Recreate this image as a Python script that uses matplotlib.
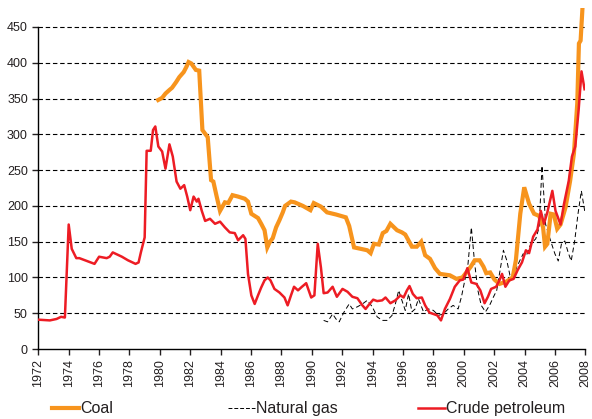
import matplotlib.pyplot as plt
from matplotlib.lines import Line2D

# ================= DATA =================
oil_years = [1972.0, 1972.76, 1973.2, 1973.5, 1973.75, 1974.0, 1974.2, 1974.5, 1974.7, 1975.7,
             1976.0, 1976.5, 1976.7, 1976.9, 1977.5, 1977.9, 1978.4, 1978.6, 1978.75, 1979.0,
             1979.13, 1979.4, 1979.55, 1979.7, 1979.9, 1980.15, 1980.37, 1980.63, 1980.85, 1981.1,
             1981.35, 1981.6, 1981.8, 1982.0, 1982.22, 1982.43, 1982.54, 1982.76, 1982.98, 1983.3,
             1983.63, 1983.96, 1984.28, 1984.6, 1984.93, 1985.15, 1985.48, 1985.63, 1985.8, 1986.02,
             1986.24, 1986.46, 1986.67, 1986.89, 1987.1, 1987.28, 1987.54, 1987.87, 1988.2, 1988.41,
             1988.63, 1988.83, 1989.09, 1989.35, 1989.63, 1989.96, 1990.17, 1990.39, 1990.6, 1990.78,
             1991.04, 1991.37, 1991.65, 1992.02, 1992.35, 1992.67, 1993.0, 1993.33, 1993.54, 1993.76,
             1994.04, 1994.3, 1994.63, 1994.85, 1995.17, 1995.5, 1995.83, 1996.04, 1996.26, 1996.43,
             1996.65, 1996.9, 1997.24, 1997.46, 1997.74, 1998.0, 1998.26, 1998.5, 1998.76, 1999.09,
             1999.41, 1999.74, 1999.96, 2000.24, 2000.5, 2000.83, 2001.09, 2001.37, 2001.59, 2001.8,
             2002.13, 2002.35, 2002.52, 2002.74, 2003.0, 2003.28, 2003.54, 2003.83, 2004.09, 2004.3,
             2004.57, 2004.85, 2005.07, 2005.28, 2005.5, 2005.83, 2006.04, 2006.37, 2006.59, 2006.91,
             2007.12, 2007.34, 2007.56, 2007.75, 2007.95]
oil_values = [41, 40, 42, 45, 44, 174, 140, 127, 127, 119,
              129, 127, 129, 135, 129, 124, 119, 121, 135, 156,
              277, 277, 306, 311, 283, 276, 252, 286, 269, 234,
              224, 229, 213, 194, 213, 206, 210, 193, 179, 182,
              175, 178, 170, 163, 162, 152, 159, 154, 105, 75,
              63, 75, 86, 96, 100, 96, 84, 79, 72, 61,
              75, 87, 82, 87, 92, 72, 75, 147, 114, 78,
              79, 87, 73, 84, 80, 73, 71, 61, 56, 62,
              69, 67, 68, 72, 64, 68, 75, 72, 82, 88,
              77, 71, 72, 61, 51, 49, 47, 40, 56, 70,
              87, 96, 97, 113, 93, 91, 82, 64, 73, 84,
              87, 96, 105, 87, 96, 98, 110, 121, 138, 134,
              157, 167, 193, 175, 191, 221, 193, 174, 202, 235,
              269, 283, 334, 388, 363]

coal_years = [1979.89, 1980.15, 1980.37, 1980.63, 1980.8, 1981.07, 1981.28, 1981.57, 1981.74, 1981.89,
              1982.07, 1982.37, 1982.59, 1982.8, 1983.15, 1983.37, 1983.52, 1983.74, 1983.96, 1984.28,
              1984.5, 1984.78, 1985.15, 1985.59, 1985.8, 1986.02, 1986.46, 1986.67, 1986.89, 1987.07,
              1987.22, 1987.43, 1987.65, 1987.87, 1988.09, 1988.24, 1988.63, 1988.87, 1989.41, 1989.91,
              1990.13, 1990.6, 1991.0, 1991.59, 1992.24, 1992.46, 1992.78, 1993.22, 1993.65, 1993.87,
              1994.09, 1994.41, 1994.67, 1994.91, 1995.17, 1995.61, 1995.93, 1996.15, 1996.59, 1996.91,
              1997.2, 1997.46, 1997.78, 1998.11, 1998.43, 1999.09, 1999.52, 1999.91, 2000.17, 2000.46,
              2000.72, 2001.04, 2001.3, 2001.48, 2001.74, 2002.02, 2002.35, 2002.78, 2003.22, 2003.43,
              2003.72, 2003.98, 2004.3, 2004.63, 2004.96, 2005.22, 2005.35, 2005.5, 2005.72, 2005.93,
              2006.15, 2006.37, 2006.7, 2007.0, 2007.25, 2007.47, 2007.58, 2007.69, 2007.85]
coal_values = [348, 351, 357, 362, 365, 373, 380, 387, 394, 401,
               399, 390, 389, 306, 296, 236, 234, 213, 193, 205,
               204, 215, 213, 210, 206, 189, 183, 175, 166, 142,
               149, 155, 170, 180, 191, 200, 206, 205, 200, 194,
               204, 199, 191, 188, 184, 172, 142, 140, 138, 134,
               147, 146, 162, 165, 175, 166, 163, 160, 143, 143,
               150, 131, 126, 113, 105, 103, 98, 100, 107, 115,
               124, 124, 115, 106, 107, 97, 91, 94, 100, 124,
               189, 226, 203, 189, 186, 170, 143, 147, 189, 188,
               168, 174, 198, 235, 273, 343, 427, 431, 490]

gas_years = [1990.78, 1991.04, 1991.37, 1991.59, 1991.8, 1992.13, 1992.46, 1992.67, 1993.0, 1993.33,
             1993.65, 1993.98, 1994.3, 1994.63, 1994.96, 1995.28, 1995.5, 1995.72, 1995.93, 1996.15,
             1996.37, 1996.59, 1996.8, 1997.02, 1997.35, 1997.67, 1998.0, 1998.33, 1998.65, 1998.98,
             1999.3, 1999.63, 1999.85, 2000.07, 2000.28, 2000.5, 2000.72, 2000.93, 2001.15, 2001.43,
             2001.7, 2001.96, 2002.17, 2002.39, 2002.61, 2002.83, 2003.04, 2003.26, 2003.48, 2003.7,
             2003.91, 2004.13, 2004.41, 2004.74, 2004.96, 2005.15, 2005.39, 2005.72, 2006.0, 2006.22,
             2006.43, 2006.65, 2006.87, 2007.07, 2007.3, 2007.52, 2007.74, 2007.96]
gas_values = [40, 38, 49, 42, 38, 52, 63, 56, 59, 63,
              68, 59, 45, 40, 40, 47, 63, 82, 68, 54,
              77, 52, 56, 70, 52, 56, 54, 47, 49, 56,
              61, 56, 73, 96, 119, 170, 119, 82, 61, 52,
              61, 73, 82, 110, 138, 124, 103, 100, 114, 124,
              133, 131, 147, 154, 170, 256, 174, 151, 133, 123,
              147, 151, 135, 123, 151, 189, 221, 193]

year_ticks = list(range(1972, 2009, 2))
value_ticks = list(range(0, 451, 50))

coal_color = '#f7941d'
oil_color = '#ed1c24'
text_color = '#231f20'

plt.rcParams['font.family'] = ['Liberation Sans', 'DejaVu Sans']

# ================= PLOT =================
fig = plt.figure(figsize=(5.92, 4.19), dpi=100)
ax = fig.add_axes([0.0647, 0.167, 0.924, 0.813])

ax.plot(coal_years, coal_values, color=coal_color, linewidth=3.0, solid_joinstyle='miter', zorder=3)
ax.plot(gas_years, gas_values, color='black', linewidth=0.7, linestyle=(0, (5, 3)), zorder=2)
ax.plot(oil_years, oil_values, color=oil_color, linewidth=1.8, zorder=4)

ax.set_xlim(1972, 2008)
ax.set_ylim(0, 476)
ax.set_xticks(year_ticks)
ax.set_xticklabels([str(y) for y in year_ticks], rotation=90)
ax.set_yticks(value_ticks)

for v in value_ticks[1:]:
    ax.axhline(v, color='black', linewidth=0.8, linestyle=(0, (4, 2.5)), zorder=1)

for side in ['top', 'right']:
    ax.spines[side].set_visible(False)
ax.spines['left'].set_bounds(0, 450)
ax.spines['left'].set_linewidth(1.0)
ax.spines['bottom'].set_linewidth(1.0)
ax.tick_params(axis='both', labelsize=9, colors=text_color, length=4, width=1.0, direction='out')

# -------- Legend (three separate items, spaced as in the reference) --------
items = [
    (Line2D([], [], color=coal_color, linewidth=3.0), 'Coal', 0.088),
    (Line2D([], [], color='black', linewidth=0.7, linestyle=(0, (4, 2))), 'Natural gas', 0.385),
    (Line2D([], [], color=oil_color, linewidth=1.8), 'Crude petroleum', 0.706),
]
for handle, label, xpos in items:
    fig.legend([handle], [label], loc='center left', bbox_to_anchor=(xpos, 0.024),
               frameon=False, fontsize=11.5, handlelength=1.7, handletextpad=0.05,
               borderpad=0, borderaxespad=0, labelcolor=text_color)

plt.savefig('out.png', dpi=100)
